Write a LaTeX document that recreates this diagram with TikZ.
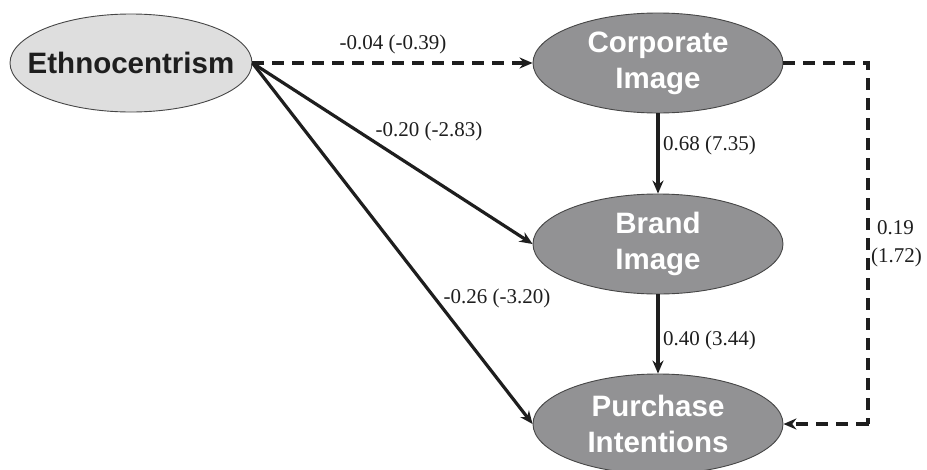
\documentclass[tikz,border=0pt]{standalone}
\usepackage{fontspec}
\setmainfont{Liberation Serif}
\setsansfont{Liberation Sans}
\usetikzlibrary{arrows.meta,shapes.geometric}
\definecolor{lightfill}{RGB}{222,222,222}
\definecolor{darkfill}{RGB}{146,146,148}
\definecolor{edgegray}{RGB}{70,70,70}
\definecolor{txtdark}{RGB}{30,30,30}
\begin{document}
\begin{tikzpicture}[x=1pt,y=-1pt,
  latent/.style={ellipse,draw=edgegray,line width=0.9pt,minimum width=250pt,minimum height=100pt,
    inner xsep=-18pt,inner ysep=0pt,
    font=\sffamily\bfseries\fontsize{29.5}{36}\selectfont,align=center},
  exo/.style={latent,fill=lightfill,text=txtdark,minimum width=242pt,minimum height=98pt},
  endo/.style={latent,fill=darkfill,text=white},
  solidarrow/.style={draw=txtdark,line width=3.2pt,-{Stealth[length=13pt,width=11pt]}},
  dashedarrow/.style={draw=txtdark,line width=3.4pt,dash pattern=on 12pt off 8pt,-{Stealth[length=13pt,width=11pt]}},
  dashedline/.style={draw=txtdark,line width=3.4pt,dash pattern=on 12pt off 8pt},
  lab/.style={font=\fontsize{21}{24}\selectfont,text=txtdark,inner sep=1pt}]
\useasboundingbox (0,0) rectangle (927,469);
\node[exo] (eth) at (131,63) {Ethnocentrism};
\node[endo] (ci) at (658,63) {Corporate\\Image};
\node[endo] (bi) at (658,244) {Brand\\Image};
\node[endo] (pi) at (658,424) {Purchase\\Intentions};
\coordinate (c1) at (868,63);
\coordinate (c2) at (868,424);
\draw[dashedarrow] (eth.east) -- (ci.west);
\draw[solidarrow] (eth.east) -- (bi.west);
\draw[solidarrow] (eth.east) -- (pi.west);
\draw[solidarrow] (ci.south) -- (bi.north);
\draw[solidarrow] (bi.south) -- (pi.north);
\draw[dashedline] (ci.east) -- (c1) -- (c2) -- ([xshift=1pt]c2);
\draw[dashedarrow] (c2) -- (pi.east);
\node[lab] (l1) at (393,44) {-0.04 (-0.39)};
\node[lab] (l2) at (429,131) {-0.20 (-2.83)};
\node[lab] (l3) at (497,298) {-0.26 (-3.20)};
\node[lab,anchor=west] (l4) at (662,145) {0.68 (7.35)};
\node[lab,anchor=west] (l5) at (662,340) {0.40 (3.44)};
\node[lab,anchor=west] (l6) at (876,228) {0.19};
\node[lab,anchor=west] (l7) at (870,257) {(1.72)};
\end{tikzpicture}
\end{document}
